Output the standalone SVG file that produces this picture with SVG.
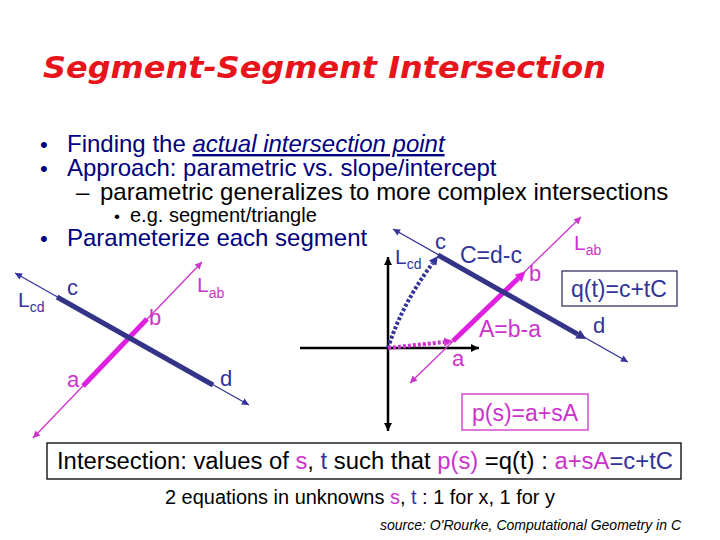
<svg xmlns="http://www.w3.org/2000/svg" width="720" height="540" viewBox="0 0 720 540">
<style>
text{font-family:"Liberation Sans",Arial,sans-serif}
.navy{fill:#000080}
.blk{fill:#000}
.blue{fill:#333399}
.pink{fill:#CC33CC}
.thinB{stroke:#333399;stroke-width:1.3;fill:none}
.thinP{stroke:#CC33CC;stroke-width:1.3;fill:none}
.thickB{stroke:#333388;stroke-width:5;fill:none}
.thickP{stroke:#E020E0;stroke-width:5;fill:none}
.axis{stroke:#000;stroke-width:2.5;fill:none}
.dotB{stroke:#333399;stroke-width:4;stroke-dasharray:3 2;fill:none}
.dotP{stroke:#D030D0;stroke-width:4;stroke-dasharray:3 2;fill:none}
.lbl{font-size:22px}
</style>
<defs>
<marker id="aB" viewBox="0 0 10 10" refX="10" refY="5" markerWidth="9" markerHeight="7" markerUnits="userSpaceOnUse" orient="auto-start-reverse"><path d="M0,0L10,5L0,10z" fill="#333399"/></marker>
<marker id="aP" viewBox="0 0 10 10" refX="10" refY="5" markerWidth="9" markerHeight="7" markerUnits="userSpaceOnUse" orient="auto-start-reverse"><path d="M0,0L10,5L0,10z" fill="#CC33CC"/></marker>
<marker id="aK" viewBox="0 0 10 10" refX="10" refY="5" markerWidth="9" markerHeight="8" markerUnits="userSpaceOnUse" orient="auto-start-reverse"><path d="M0,0L10,5L0,10z" fill="#000"/></marker>
<marker id="vB" viewBox="0 0 10 10" refX="0" refY="5" markerWidth="12" markerHeight="10" markerUnits="userSpaceOnUse" orient="auto"><path d="M0,0L10,5L0,10z" fill="#333388"/></marker>
<marker id="vP" viewBox="0 0 10 10" refX="0" refY="5" markerWidth="12" markerHeight="10" markerUnits="userSpaceOnUse" orient="auto"><path d="M0,0L10,5L0,10z" fill="#E020E0"/></marker>
<marker id="dB" viewBox="0 0 10 10" refX="0" refY="5" markerWidth="9" markerHeight="9" markerUnits="userSpaceOnUse" orient="auto"><path d="M0,0L10,5L0,10z" fill="#333399"/></marker>
<marker id="dP" viewBox="0 0 10 10" refX="0" refY="5" markerWidth="9" markerHeight="9" markerUnits="userSpaceOnUse" orient="auto"><path d="M0,0L10,5L0,10z" fill="#D030D0"/></marker>
</defs>

<g id="title">
<text x="43" y="78" font-family="DejaVu Sans" font-weight="bold" font-style="italic" font-size="30" fill="#E8141C" textLength="563" lengthAdjust="spacingAndGlyphs" style="font-family:'DejaVu Sans',Verdana,sans-serif">Segment-Segment Intersection</text>
</g>

<g id="bullets" font-size="24">
<text x="40" y="152" class="navy" font-size="22">•</text>
<text x="67" y="152" class="navy">Finding the <tspan font-style="italic" text-decoration="underline">actual intersection point</tspan></text>
<text x="40" y="176" class="navy" font-size="22">•</text>
<text x="67" y="176" class="navy">Approach: parametric vs. slope/intercept</text>
<text x="76" y="200" class="blk">–</text>
<text x="100" y="200" class="blk">parametric generalizes to more complex intersections</text>
<text x="114" y="222" class="blk" font-size="17">•</text>
<text x="130" y="222" class="blk" font-size="20">e.g. segment/triangle</text>
<text x="40" y="246" class="navy" font-size="22">•</text>
<text x="67" y="246" class="navy">Parameterize each segment</text>
</g>

<g id="connectors">
<!-- left diagram -->
<line class="thinP" x1="33" y1="438" x2="202" y2="262" marker-start="url(#aP)" marker-end="url(#aP)"/>
<line class="thinB" x1="15" y1="273" x2="249" y2="405" marker-start="url(#aB)" marker-end="url(#aB)"/>
<line class="thickP" x1="83" y1="386" x2="147" y2="319"/>
<line class="thickB" x1="57" y1="297" x2="213" y2="385"/>
<!-- right diagram axes -->
<line class="axis" x1="300" y1="348" x2="479" y2="348" marker-end="url(#aK)"/>
<line class="axis" x1="388" y1="257" x2="388" y2="431" marker-start="url(#aK)" marker-end="url(#aK)"/>
<!-- right diagram lines -->
<line class="thinP" x1="410" y1="383" x2="581" y2="217" marker-start="url(#aP)" marker-end="url(#aP)"/>
<line class="thinB" x1="393" y1="229" x2="628" y2="362" marker-start="url(#aB)" marker-end="url(#aB)"/>
<path class="dotB" d="M388,348 Q402,304 432.6,263.2" marker-end="url(#dB)"/>
<path class="dotP" d="M388,348 L444,342" marker-end="url(#dP)"/>
<line class="thickP" x1="453" y1="341" x2="518.3" y2="278.3" marker-end="url(#vP)"/>
<line class="thickB" x1="438" y1="255" x2="577.6" y2="334.1" marker-end="url(#vB)"/>
</g>

<g id="left-labels" class="lbl">
<text x="18" y="307" class="blue" font-size="21">L<tspan font-size="14" dy="5">cd</tspan></text>
<text x="67" y="295" class="blue">c</text>
<text x="197" y="292" class="pink" font-size="21">L<tspan font-size="14" dy="6">ab</tspan></text>
<text x="149" y="325" class="pink">b</text>
<text x="67" y="387" class="pink">a</text>
<text x="220" y="386" class="blue">d</text>
</g>

<g id="right-labels" class="lbl">
<text x="395" y="264" class="blue" font-size="21">L<tspan font-size="14" dy="5">cd</tspan></text>
<text x="435" y="249" class="blue">c</text>
<text x="460" y="263" class="blue" font-size="23">C=d-c</text>
<text x="574" y="250" class="pink" font-size="21">L<tspan font-size="14" dy="5">ab</tspan></text>
<text x="529" y="281" class="pink">b</text>
<text x="479" y="337" class="pink" font-size="23">A=b-a</text>
<text x="593" y="333" class="blue">d</text>
<text x="452" y="366" class="pink">a</text>
</g>

<g id="q-box">
<rect x="562" y="271" width="115" height="35" fill="none" stroke="#333366" stroke-width="1.3"/>
<text x="571" y="297" class="blue" font-size="23">q(t)=c+tC</text>
</g>

<g id="p-box">
<rect x="462" y="394" width="126" height="36" fill="none" stroke="#CC33CC" stroke-width="1.3"/>
<text x="472" y="421" class="pink" font-size="23">p(s)=a+sA</text>
</g>

<g id="intersection-box">
<rect x="47" y="443" width="634" height="36" fill="none" stroke="#000" stroke-width="1.3"/>
<text x="57" y="469" font-size="23" class="blk" textLength="616" lengthAdjust="spacingAndGlyphs">Intersection: values of <tspan class="pink">s</tspan>, <tspan class="blue">t</tspan> such that <tspan class="pink">p(s)</tspan> =q(t) : <tspan class="pink">a+sA</tspan><tspan class="blue">=c+tC</tspan></text>
</g>

<g id="equations">
<text x="165" y="504" font-size="20" class="blk" textLength="390" lengthAdjust="spacingAndGlyphs">2 equations in unknowns <tspan class="pink">s</tspan>, <tspan class="blue">t</tspan> : 1 for x, 1 for y</text>
</g>

<g id="source">
<text x="380" y="530" font-size="14" font-style="italic" class="blk" textLength="301" lengthAdjust="spacingAndGlyphs">source: O'Rourke, Computational Geometry in C</text>
</g>
</svg>
